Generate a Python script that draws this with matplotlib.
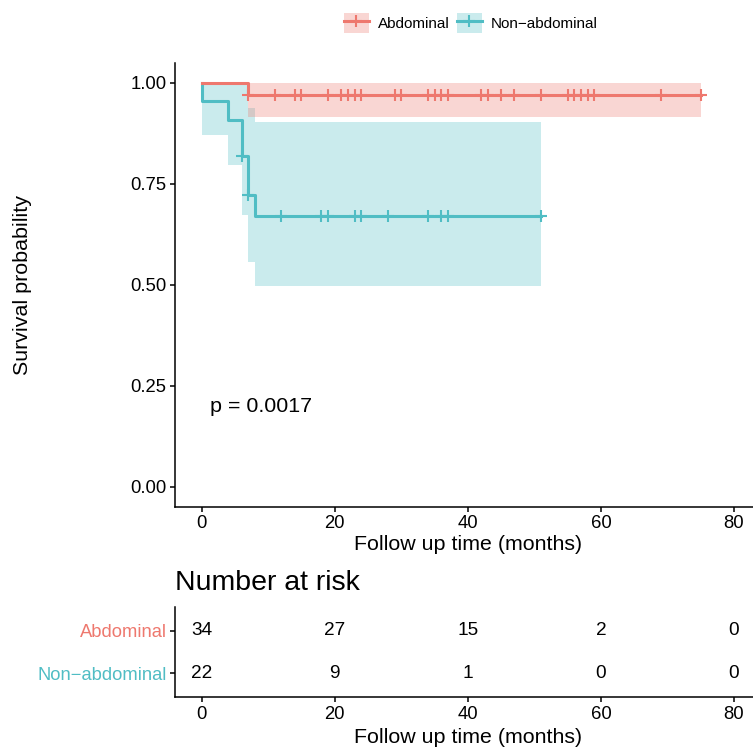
import matplotlib
matplotlib.use('Agg')
import matplotlib.pyplot as plt
import numpy as np
from matplotlib.patches import Patch
from matplotlib.lines import Line2D
from matplotlib.legend_handler import HandlerTuple

plt.rcParams['font.family'] = ['Liberation Sans', 'DejaVu Sans']

# --- data ---
groups = ['Abdominal', 'Non\u2212abdominal']
colors = ['#EE786E', '#50BDC4']

# Kaplan-Meier steps (time in months, survival after each step)
ab_time = [0, 7, 75]
ab_surv = [1.0, 0.971, 0.971]
ab_ci_lo = [1.0, 0.915, 0.915]
ab_ci_hi = [1.0, 1.0, 1.0]
ab_censor = [7, 11, 14, 15, 19, 21, 22, 23, 24, 29, 30, 34, 35, 36, 37,
             42, 43, 45, 47, 51, 55, 56, 57, 58, 59, 69, 75]

nab_time = [0, 0, 4, 6, 7, 8, 51]
nab_surv = [1.0, 0.955, 0.909, 0.818, 0.722, 0.671, 0.671]
nab_ci_time = [0, 4, 6, 7, 8, 51]
nab_ci_lo = [0.871, 0.797, 0.673, 0.556, 0.497, 0.497]
nab_ci_hi = [1.0, 1.0, 1.0, 0.939, 0.904, 0.904]
nab_censor = [6, 7, 12, 18, 19, 23, 24, 28, 34, 36, 37, 51]

p_value = 'p = 0.0017'

risk_times = [0, 20, 40, 60, 80]
ab_risk = [34, 27, 15, 2, 0]
nab_risk = [22, 9, 1, 0, 0]


def surv_at(times, surv, t):
    idx = np.searchsorted(times, t, side='right') - 1
    return np.asarray(surv)[idx]


W, H = 753, 749
fig = plt.figure(figsize=(W / 100, H / 100), dpi=100)

def px_axes(left, top, right, bottom):
    return fig.add_axes([left / W, 1 - bottom / H, (right - left) / W, (bottom - top) / H])

ax = px_axes(175, 62.8, 760.6, 507)
rax = px_axes(175, 606.7, 760.6, 697.3)

lw = 2.2
ms = 8.5
mew = 1.5

# ribbons
ax.fill_between(nab_ci_time, nab_ci_lo, nab_ci_hi, step='post',
                color=colors[1], alpha=0.3, lw=0)
ax.fill_between(ab_time, ab_ci_lo, ab_ci_hi, step='post',
                color=colors[0], alpha=0.3, lw=0)

# curves
ax.step(nab_time, nab_surv, where='post', color=colors[1], lw=lw)
ax.plot(nab_censor, surv_at(nab_time, nab_surv, nab_censor), ls='none',
        marker='+', ms=ms, mew=mew, color=colors[1])
ax.step(ab_time, ab_surv, where='post', color=colors[0], lw=lw)
ax.plot(ab_censor, surv_at(ab_time, ab_surv, ab_censor), ls='none',
        marker='+', ms=ms, mew=mew, color=colors[0])

ax.text(1.2, 0.198, p_value, fontsize=15.4, va='center', ha='left')

for a in (ax, rax):
    a.set_xlim(-4, 84)
    a.set_xticks(risk_times)
    for s in ('top', 'right'):
        a.spines[s].set_visible(False)
    for s in ('left', 'bottom'):
        a.spines[s].set_linewidth(1.1)
    a.tick_params(width=1.1, length=3.6, pad=2.5, labelsize=13.3, colors='black')

ax.set_ylim(-0.05, 1.05)
ax.set_yticks([0, 0.25, 0.5, 0.75, 1.0])
ax.set_yticklabels(['0.00', '0.25', '0.50', '0.75', '1.00'])
ax.set_ylabel('Survival probability', fontsize=15.4, va='center')
ax.yaxis.set_label_coords(-0.2596, 0.5)
ax.set_xlabel('Follow up time (months)', fontsize=15.4, va='center')
ax.xaxis.set_label_coords(0.5, -0.0855)

# legend
handles = [(Patch(facecolor=c, alpha=0.3, lw=0),
            Line2D([], [], color=c, lw=lw, marker='+', ms=ms, mew=mew))
           for c in colors]
fig.legend(handles, groups, loc='center', bbox_to_anchor=(471 / W, 1 - 23 / H),
           ncol=2, frameon=False, fontsize=11, handlelength=1.6, handleheight=1.6,
           handletextpad=0.6, columnspacing=0.5, numpoints=1,
           handler_map={tuple: HandlerTuple(ndivide=1, pad=0)})

# risk table
rows = [ab_risk, nab_risk]
ypos = [2, 1]
for vals, y in zip(rows, ypos):
    for t, v in zip(risk_times, vals):
        rax.text(t, y, str(v), ha='center', va='center', fontsize=13.7)
rax.set_ylim(0.43, 2.57)
rax.set_yticks(ypos)
rax.set_yticklabels(groups, fontsize=13.2)
for lab, c in zip(rax.get_yticklabels(), colors):
    lab.set_color(c)
rax.set_xlabel('Follow up time (months)', fontsize=15.4, va='center')
rax.xaxis.set_label_coords(0.5, -0.449)
fig.text(175 / W, 1 - 583 / H, 'Number at risk', fontsize=20.5, ha='left', va='center')

fig.savefig('out.png', dpi=100)
